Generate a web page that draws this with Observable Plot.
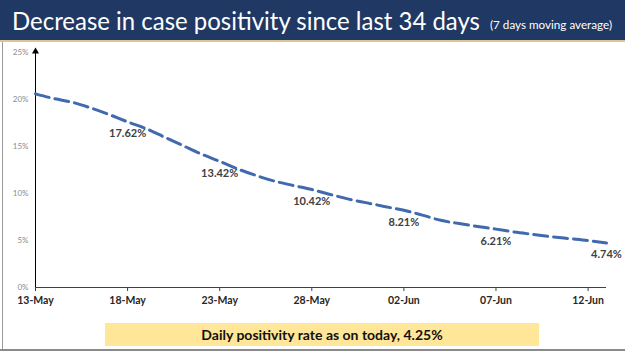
<!DOCTYPE html>
<html>
<head>
<meta charset="utf-8">
<script src="https://cdn.jsdelivr.net/npm/d3@7"></script>
<script src="https://cdn.jsdelivr.net/npm/@observablehq/plot@0.6"></script>
<style>
  html, body { margin: 0; padding: 0; background: #fff; }
  #page { position: relative; width: 625px; height: 351px; overflow: hidden; background: #fff; font-family: Lato, "Open Sans", sans-serif; }
  #titlebar { position: absolute; left: 0; top: 0; width: 625px; height: 40px; background: #1f3864; border-bottom: 2px solid #d9c894; }
  #chart { position: absolute; left: 0; top: 42px; }
  #lborder { position: absolute; left: 2px; top: 42px; width: 1px; height: 307px; background: #9a9a9a; }
  #bborder { position: absolute; left: 0; top: 349px; width: 625px; height: 2px; background: #8a8a8a; }
  #note { position: absolute; left: 105px; top: 323px; width: 434px; height: 23px; background: #ffe699; text-align: center; font-weight: bold; font-size: 14px; line-height: 23px; color: #111; }
</style>
</head>
<body>
<div id="page">
  <div id="titlebar">
    <svg width="625" height="40">
      <text x="12" y="30" fill="#fff" font-family="Lato, sans-serif" font-size="25" textLength="468" lengthAdjust="spacingAndGlyphs">Decrease in case positivity since last 34 days</text>
      <text x="490" y="29" fill="#fff" font-family="Lato, sans-serif" font-size="11" textLength="122" lengthAdjust="spacingAndGlyphs">(7 days moving average)</text>
    </svg>
  </div>
  <div id="chart"></div>
  <div id="lborder"></div>
  <div id="bborder"></div>
  <div id="note">Daily positivity rate as on today, 4.25%</div>
</div>
<script>
const dates = [
  "2021-05-13","2021-05-14","2021-05-15","2021-05-16","2021-05-17","2021-05-18",
  "2021-05-19","2021-05-20","2021-05-21","2021-05-22","2021-05-23","2021-05-24",
  "2021-05-25","2021-05-26","2021-05-27","2021-05-28","2021-05-29","2021-05-30",
  "2021-05-31","2021-06-01","2021-06-02","2021-06-03","2021-06-04","2021-06-05",
  "2021-06-06","2021-06-07","2021-06-08","2021-06-09","2021-06-10","2021-06-11",
  "2021-06-12","2021-06-13"
];
const positivity = [
  20.6, 20.1, 19.7, 19.1, 18.4, 17.62,
  16.9, 16.0, 15.1, 14.2, 13.42, 12.6,
  11.9, 11.3, 10.85, 10.42, 9.9, 9.4,
  9.0, 8.6, 8.21, 7.7, 7.15, 6.8,
  6.5, 6.21, 5.9, 5.65, 5.4, 5.2,
  5.0, 4.74
];
const labelDates = ["2021-05-18","2021-05-23","2021-05-28","2021-06-02","2021-06-07","2021-06-13"];
const labelValues = [17.62, 13.42, 10.42, 8.21, 6.21, 4.74];
const xTickDates = ["2021-05-13","2021-05-18","2021-05-23","2021-05-28","2021-06-02","2021-06-07","2021-06-12"];
const yTicks = [0, 5, 10, 15, 20, 25];

const parse = d3.utcParse("%Y-%m-%d");
const series = dates.map((d, i) => ({date: parse(d), value: positivity[i]}));
const labels = labelDates.map((d, i) => ({date: parse(d), value: labelValues[i]}));
const d0 = parse(dates[0]);

const chart = Plot.plot({
  width: 625,
  height: 270,
  marginLeft: 35,
  marginRight: 19,
  marginTop: 10,
  marginBottom: 25,
  style: {fontFamily: "Lato, sans-serif", background: "transparent", overflow: "visible"},
  x: {type: "utc", domain: [d0, parse(dates[dates.length - 1])]},
  y: {domain: [0, 25]},
  marks: [
    Plot.axisY({ticks: yTicks, tickSize: 0, tickPadding: 7, tickFormat: d => d + "%", fontSize: 8, fill: "#8c8c8c", label: null}),
    Plot.axisX({ticks: xTickDates.map(parse), tickFormat: d3.utcFormat("%d-%b"), tickSize: 4, tickPadding: 5, fontSize: 10.5, fontWeight: "bold", fill: "#262626", stroke: "#404040", label: null}),
    Plot.ruleY([0], {stroke: "#404040", strokeWidth: 1.2}),
    Plot.ruleX([d0], {y1: 0, y2: 25.1, stroke: "#000", strokeWidth: 1}),
    Plot.dot([d0], {x: d => d, y: 25.1, symbol: "triangle", r: 2.6, fill: "#000", stroke: null}),
    Plot.line(series, {x: "date", y: "value", stroke: "#4169ae", strokeWidth: 3, strokeDasharray: "14,6", curve: "monotone-x"}),
    Plot.text(labels, {x: "date", y: "value", text: d => d.value.toFixed(2) + "%", dy: 12, fontSize: 11, fontWeight: "bold", fill: "#404040"})
  ]
});
document.getElementById("chart").appendChild(chart);
</script>
</body>
</html>
